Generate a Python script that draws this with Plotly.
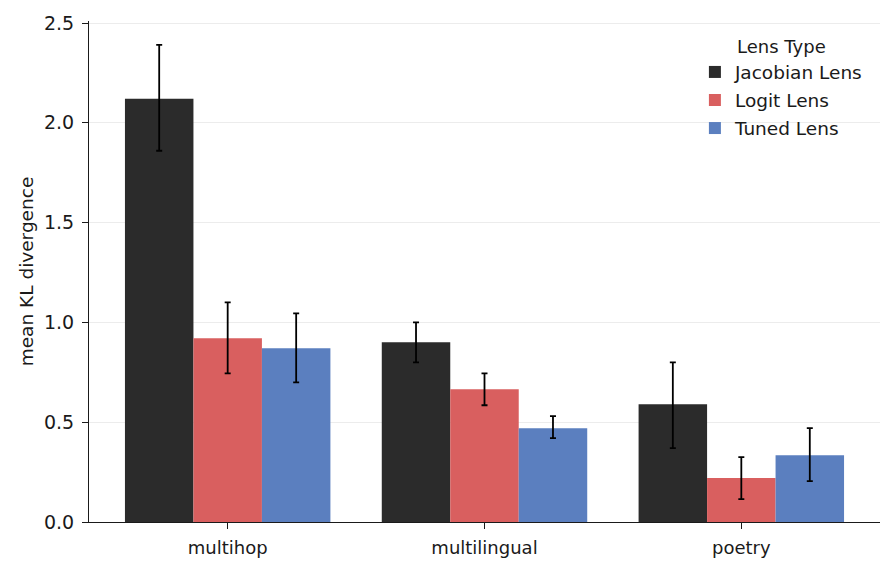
import plotly.graph_objects as go

# data
datasets = ["multihop", "multilingual", "poetry"]
lens_types = ["Jacobian Lens", "Logit Lens", "Tuned Lens"]

jacobian_mean = [2.12, 0.90, 0.59]
jacobian_hi = [2.39, 1.00, 0.80]
jacobian_lo = [1.86, 0.80, 0.37]

logit_mean = [0.92, 0.665, 0.22]
logit_hi = [1.10, 0.745, 0.325]
logit_lo = [0.745, 0.585, 0.115]

tuned_mean = [0.87, 0.47, 0.335]
tuned_hi = [1.045, 0.53, 0.47]
tuned_lo = [0.70, 0.42, 0.205]

colors = ["#2b2b2b", "#d95f5f", "#5b7fbf"]


def make_bar(name, mean, hi, lo, color):
    return go.Bar(
        name=name,
        legendgroup=name,
        x=datasets,
        y=mean,
        marker=dict(color=color, line=dict(width=0)),
        error_y=dict(
            type="data",
            symmetric=False,
            array=[h - m for h, m in zip(hi, mean)],
            arrayminus=[m - l for m, l in zip(mean, lo)],
            color="black",
            thickness=1.8,
            width=3,
        ),
    )


fig = go.Figure()
fig.add_trace(make_bar(lens_types[0], jacobian_mean, jacobian_hi, jacobian_lo, colors[0]))
fig.add_trace(make_bar(lens_types[1], logit_mean, logit_hi, logit_lo, colors[1]))
fig.add_trace(make_bar(lens_types[2], tuned_mean, tuned_hi, tuned_lo, colors[2]))

# page body has an 8px margin, so the figure is a bit smaller than the window
fig.update_layout(
    width=887,
    height=564,
    barmode="group",
    bargap=0.2,
    bargroupgap=0,
    plot_bgcolor="white",
    paper_bgcolor="white",
    font=dict(family="DejaVu Sans", size=18.5, color="#1a1a1a"),
    margin=dict(l=81, r=15, t=13, b=50, autoexpand=False),
    legend=dict(
        title=dict(text="Lens Type", font=dict(size=18), side="top center"),
        x=0.766,
        y=0.982,
        xanchor="left",
        yanchor="top",
        bgcolor="rgba(0,0,0,0)",
        font=dict(size=18.5),
        traceorder="grouped",
        tracegroupgap=1,
    ),
)
fig.update_xaxes(
    range=[-0.54, 2.54],
    automargin=False,
    showline=True,
    linecolor="#1a1a1a",
    linewidth=1.2,
    ticks="outside",
    ticklen=6,
    tickcolor="#1a1a1a",
    tickfont=dict(size=18),
    ticklabelstandoff=3,
    showgrid=False,
)
fig.update_yaxes(
    range=[0, 2.51],
    automargin=False,
    tickvals=[0, 0.5, 1.0, 1.5, 2.0, 2.5],
    ticktext=["0.0", "0.5", "1.0", "1.5", "2.0", "2.5"],
    title=dict(text="mean KL divergence", font=dict(size=18.5), standoff=5),
    showline=True,
    linecolor="#1a1a1a",
    linewidth=1.2,
    ticks="outside",
    ticklen=6,
    tickcolor="#1a1a1a",
    tickfont=dict(size=19),
    ticklabelstandoff=4,
    showgrid=True,
    gridcolor="#ececec",
    gridwidth=1,
    zeroline=False,
)

fig.write_html("out.html")
